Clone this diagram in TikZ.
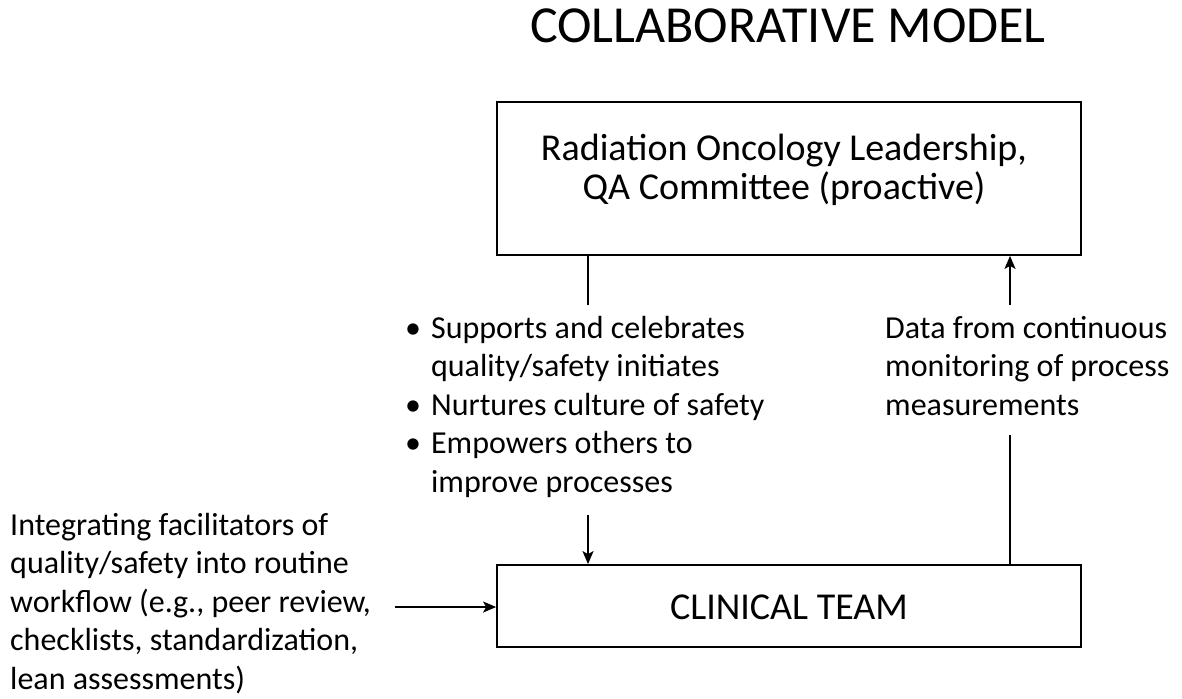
\documentclass[tikz,border=0pt]{standalone}
\usepackage{fontspec}
\setmainfont{Carlito}
\usetikzlibrary{arrows.meta}

\tikzset{
  unit/.style={draw, line width=1.8pt, inner sep=0pt},
  words/.style={inner sep=0pt, font=\fontsize{32}{38.5}\selectfont},
  link/.style={line width=1.8pt, -{Stealth[length=13pt,width=11pt,inset=3pt]}}
}

\begin{document}
\begin{tikzpicture}[x=1pt, y=-1pt]
\useasboundingbox (0,0) rectangle (1182,698);
% title
\node [font=\fontsize{52}{60}\selectfont, anchor=base] (title) at (788,43) {COLLABORATIVE MODEL};
% the two boxes
\node [unit, minimum width=584pt, minimum height=153pt] (lead) at (789,178.5) {};
\node [font=\fontsize{38}{39}\selectfont, anchor=base] (leadA) at (784,160) {Radiation Oncology Leadership,};
\node [font=\fontsize{38}{39}\selectfont, anchor=base] (leadB) at (784,199) {QA Committee (proactive)};
\node [unit, minimum width=584pt, minimum height=82pt] (team) at (789,606) {};
\node [font=\fontsize{38}{40}\selectfont, anchor=base] (teamtext) at (789,619) {CLINICAL TEAM};
% texts between them
\node [words, anchor=base west] (support) at (405,338) {%
  \begin{tabular}[t]{@{}l@{\hspace{10pt}}l@{}}
  \textbullet & Supports and celebrates\\
              & quality/safety initiates\\
  \textbullet & Nurtures culture of safety\\
  \textbullet & Empowers others to\\
              & improve processes
  \end{tabular}};
\node [words, anchor=base west] (data) at (885,338) {%
  \begin{tabular}[t]{@{}l@{}}
  Data from continuous\\
  monitoring of process\\
  measurements
  \end{tabular}};
\node [words, anchor=base west] (facil) at (10,535) {%
  \begin{tabular}[t]{@{}l@{}}
  Integrating facilitators of\\
  quality/safety into routine\\
  workflow (e.g., peer review,\\
  checklists, standardization,\\
  lean assessments)
  \end{tabular}};
% connectors
\coordinate (downtop) at (588,305);
\coordinate (downbot) at (588,515);
\coordinate (uptop) at (1010,305);
\coordinate (upbot) at (1010,435);
\coordinate (leftend) at (395,607);
\draw [line width=1.8pt] (lead.south -| downtop) -- (downtop);
\draw [link] (downbot) -- (team.north -| downbot);
\draw [line width=1.8pt] (team.north -| upbot) -- (upbot);
\draw [link] (uptop) -- (lead.south -| uptop);
\draw [link] (leftend) -- (team.west |- leftend);
\end{tikzpicture}
\end{document}
